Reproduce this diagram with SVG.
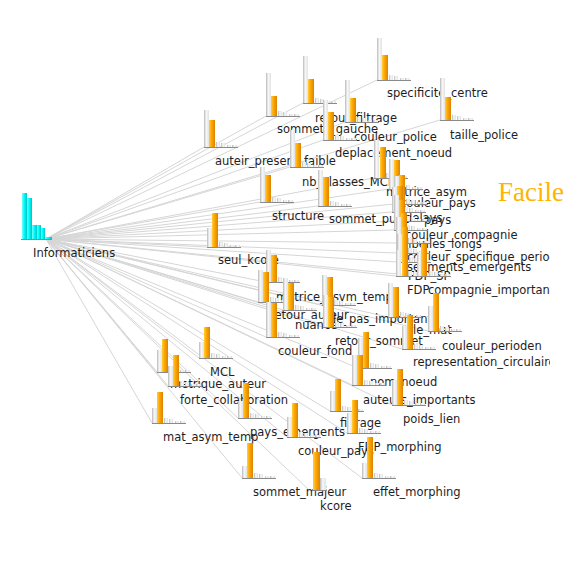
<svg xmlns="http://www.w3.org/2000/svg" xmlns:xlink="http://www.w3.org/1999/xlink" width="585" height="567" viewBox="0 0 585 567">
<style>
.e{stroke:#d6d6d6;stroke-width:1;fill:none}
.gb{fill:url(#gg)}
.ob{fill:url(#og)}
.cb{fill:url(#cg)}
.sb{fill:url(#gg)}
.bl{stroke:#8a8a8a;stroke-width:1}
text{font-family:"DejaVu Sans",Verdana,sans-serif;font-size:11.5px;fill:#1e1e1e}
.facile{font-family:"Liberation Serif","Times New Roman",serif;font-size:27px;fill:#ffb400}
</style>
<defs>
<linearGradient id="gg" x1="0" y1="0" x2="1" y2="0"><stop offset="0" stop-color="#b8b8b8"/><stop offset="0.45" stop-color="#f8f8f8"/><stop offset="1" stop-color="#e2e2e2"/></linearGradient>
<linearGradient id="og" x1="0" y1="0" x2="1" y2="0"><stop offset="0" stop-color="#ffcf40"/><stop offset="0.4" stop-color="#ffa800"/><stop offset="1" stop-color="#dc8200"/></linearGradient>
<linearGradient id="cg" x1="0" y1="0" x2="1" y2="0"><stop offset="0" stop-color="#7ff"/><stop offset="0.4" stop-color="#0ff"/><stop offset="1" stop-color="#00c4c4"/></linearGradient>
<g id="tail"><rect class="sb" x="12" y="-5" width="4" height="5"/><rect class="sb" x="17" y="-4" width="4" height="4"/><rect class="sb" x="23" y="-2" width="4" height="2"/><rect class="sb" x="28" y="-2" width="5" height="2"/><path class="bl" d="M0 0.5H34"/></g>
<clipPath id="clip"><rect x="0" y="0" width="550" height="567"/></clipPath>
</defs>
<g id="connectors">
<path class="e" d="M46 239L377 80M46 239L303 103M46 239L266 116M46 239L440 120M46 239L345 122M46 239L323 140M46 239L204 147M46 239L290 167M46 239L374 178M46 239L389 189M46 239L260 202M46 239L394 204M46 239L318 206M46 239L392 212M46 239L394 221M46 239L394 230M46 239L207 247M46 239L396 243M46 239L396 253M46 239L397 262M46 239L396 276M46 239L417 276M46 239L266 282M46 239L258 302M46 239L322 305M46 239L283 310M46 239L388 317M46 239L323 327M46 239L428 331M46 239L266 337M46 239L402 349M46 239L199 358M46 239L358 368M46 239L157 372M46 239L352 385M46 239L168 386M46 239L392 405M46 239L330 411M46 239L238 418M46 239L152 423M46 239L347 433M46 239L287 437M46 239L242 478M46 239L362 478M46 239L309 490"/>
</g>
<g id="nodes" clip-path="url(#clip)">
<g id="Informaticiens"><rect class="cb" x="22" y="193" width="5" height="46"/><rect class="cb" x="27" y="198" width="5" height="41"/><rect class="cb" x="32" y="225" width="5" height="14"/><rect class="cb" x="37" y="225" width="4" height="14"/><rect class="cb" x="41" y="228" width="4" height="11"/><rect class="cb" x="45" y="237" width="7" height="2"/><path class="bl" d="M21 239.5H52" stroke="#555"/><text x="33" y="257">Informaticiens</text></g>
<g id="specificite_centre" transform="translate(377,80)"><rect class="gb" y="-42" width="5" height="42"/><rect class="ob" x="5" y="-25" width="6" height="25"/><use href="#tail"/><text x="10" y="17">specificite_centre</text></g>
<g id="retour_filtrage" transform="translate(303,103)"><rect class="gb" y="-47" width="5" height="47"/><rect class="ob" x="5" y="-24" width="6" height="24"/><use href="#tail"/><text x="12" y="19">retour_filtrage</text></g>
<g id="sommets_gauche" transform="translate(266,116)"><rect class="gb" y="-43" width="5" height="43"/><rect class="ob" x="5" y="-20" width="6" height="20"/><use href="#tail"/><text x="11" y="17">sommets_gauche</text></g>
<g id="taille_police" transform="translate(440,120)"><rect class="gb" y="-42" width="5" height="42"/><rect class="ob" x="5" y="-23" width="6" height="23"/><use href="#tail"/><text x="10" y="19">taille_police</text></g>
<g id="couleur_police" transform="translate(345,122)"><rect class="gb" y="-42" width="5" height="42"/><rect class="ob" x="5" y="-24" width="6" height="24"/><use href="#tail"/><text x="9" y="19">couleur_police</text></g>
<g id="deplacement_noeud" transform="translate(323,140)"><rect class="gb" y="-40" width="5" height="40"/><rect class="ob" x="5" y="-28" width="6" height="28"/><use href="#tail"/><text x="12" y="17">deplacement_noeud</text></g>
<g id="auteir_present_faible" transform="translate(204,147)"><rect class="gb" y="-37" width="5" height="37"/><rect class="ob" x="5" y="-27" width="6" height="27"/><use href="#tail"/><text x="11" y="18">auteir_present_faible</text></g>
<g id="nb_classes_MCL" transform="translate(290,167)"><rect class="gb" y="-37" width="5" height="37"/><rect class="ob" x="5" y="-24" width="6" height="24"/><use href="#tail"/><text x="12" y="19">nb_classes_MCL</text></g>
<g id="matrice_asym" transform="translate(374,178)"><rect class="gb" y="-38" width="5" height="38"/><rect class="ob" x="6" y="-31" width="6" height="31"/><use href="#tail"/><text x="12" y="18">matrice_asym</text></g>
<g id="couleur_pays" transform="translate(389,189)"><rect class="gb" y="-30" width="5" height="30"/><rect class="ob" x="5" y="-29" width="6" height="29"/><use href="#tail"/><text x="11" y="18">couleur_pays</text></g>
<g id="structure" transform="translate(260,202)"><rect class="gb" y="-35" width="5" height="35"/><rect class="ob" x="5" y="-27" width="6" height="27"/><use href="#tail"/><text x="12" y="18">structure</text></g>
<g id="delays" transform="translate(394,204)"><rect class="gb" y="-28" width="5" height="28"/><rect class="ob" x="5" y="-29" width="6" height="29"/><use href="#tail"/><text x="11" y="18">delays</text></g>
<g id="sommet_puits" transform="translate(318,206)"><rect class="gb" y="-36" width="5" height="36"/><rect class="ob" x="5" y="-29" width="6" height="29"/><use href="#tail"/><text x="11" y="17">sommet_puits</text></g>
<g id="pays" transform="translate(392,212)"><rect class="gb" y="-25" width="5" height="25"/><rect class="ob" x="5" y="-26" width="6" height="26"/><use href="#tail"/><text x="32" y="12">pays</text></g>
<g id="couleur_compagnie" transform="translate(394,221)"><rect class="gb" y="-26" width="5" height="26"/><rect class="ob" x="5" y="-21" width="6" height="21"/><use href="#tail"/><text x="11" y="18">couleur_compagnie</text></g>
<g id="libelles_longs" transform="translate(394,230)"><rect class="gb" y="-25" width="5" height="25"/><rect class="ob" x="5" y="-30" width="6" height="30"/><use href="#tail"/><text x="11" y="18">libelles_longs</text></g>
<g id="seul_kcore" transform="translate(207,247)"><rect class="gb" y="-19" width="5" height="19"/><rect class="ob" x="5" y="-34" width="6" height="34"/><use href="#tail"/><text x="11" y="17">seul_kcore</text></g>
<g id="couleur_specifique_periode" transform="translate(396,243)"><rect class="gb" y="-26" width="5" height="26"/><rect class="ob" x="5" y="-30" width="6" height="30"/><use href="#tail"/><text x="11" y="18">couleur_specifique_periode</text></g>
<g id="segments_emergents" transform="translate(396,253)"><rect class="gb" y="-24" width="5" height="24"/><rect class="ob" x="6" y="-26" width="6" height="26"/><use href="#tail"/><text x="11" y="18">segments_emergents</text></g>
<g id="FDP_SP" transform="translate(397,262)"><rect class="gb" y="-28" width="5" height="28"/><rect class="ob" x="5" y="-32" width="6" height="32"/><use href="#tail"/><text x="11" y="18">FDP_SP</text></g>
<g id="FDP" transform="translate(396,276)"><rect class="gb" y="-26" width="5" height="26"/><rect class="ob" x="6" y="-36" width="6" height="36"/><use href="#tail"/><text x="11" y="18">FDP</text></g>
<g id="compagnie_importante" transform="translate(417,276)"><rect class="gb" y="-24" width="5" height="24"/><rect class="ob" x="4" y="-32" width="6" height="32"/><use href="#tail"/><text x="11" y="18">compagnie_importante</text></g>
<g id="matrice_asym_temp" transform="translate(266,282)"><rect class="gb" y="-32" width="5" height="32"/><rect class="ob" x="5" y="-27" width="6" height="27"/><use href="#tail"/><text x="10" y="19">matrice_asym_temp</text></g>
<g id="retour_auteur" transform="translate(258,302)"><rect class="gb" y="-32" width="5" height="32"/><rect class="ob" x="5" y="-30" width="6" height="30"/><use href="#tail"/><text x="12" y="17">retour_auteur</text></g>
<g id="le_pas_importante" transform="translate(322,305)"><rect class="gb" y="-30" width="5" height="30"/><rect class="ob" x="5" y="-28" width="6" height="28"/><use href="#tail"/><text x="11" y="18">le_pas_importante</text></g>
<g id="nuance" transform="translate(283,310)"><rect class="gb" y="-32" width="5" height="32"/><rect class="ob" x="5" y="-27" width="6" height="27"/><use href="#tail"/><text x="12" y="19">nuance</text></g>
<g id="le_mat" transform="translate(388,317)"><rect class="gb" y="-34" width="5" height="34"/><rect class="ob" x="5" y="-30" width="6" height="30"/><use href="#tail"/><text x="25" y="17">le_mat</text></g>
<g id="retour_sommet" transform="translate(323,327)"><rect class="gb" y="-32" width="5" height="32"/><rect class="ob" x="5" y="-30" width="6" height="30"/><use href="#tail"/><text x="12" y="18">retour_sommet</text></g>
<g id="couleur_perioden" transform="translate(428,331)"><rect class="gb" y="-25" width="5" height="25"/><rect class="ob" x="5" y="-38" width="6" height="38"/><use href="#tail"/><text x="14" y="19">couleur_perioden</text></g>
<g id="couleur_fond" transform="translate(266,337)"><rect class="gb" y="-35" width="5" height="35"/><rect class="ob" x="5" y="-34" width="6" height="34"/><use href="#tail"/><text x="12" y="18">couleur_fond</text></g>
<g id="representation_circulaire" transform="translate(402,349)"><rect class="gb" y="-23" width="5" height="23"/><rect class="ob" x="5" y="-34" width="6" height="34"/><use href="#tail"/><text x="11" y="17">representation_circulaire</text></g>
<g id="MCL" transform="translate(199,358)"><rect class="gb" y="-16" width="5" height="16"/><rect class="ob" x="5" y="-31" width="6" height="31"/><use href="#tail"/><text x="11" y="18">MCL</text></g>
<g id="nom_noeud" transform="translate(358,368)"><rect class="gb" y="-30" width="5" height="30"/><rect class="ob" x="5" y="-36" width="6" height="36"/><use href="#tail"/><text x="12" y="18">nom_noeud</text></g>
<g id="metrique_auteur" transform="translate(157,372)"><rect class="gb" y="-22" width="5" height="22"/><rect class="ob" x="5" y="-33" width="6" height="33"/><use href="#tail"/><text x="13" y="16">metrique_auteur</text></g>
<g id="auteurs_importants" transform="translate(352,385)"><rect class="gb" y="-30" width="5" height="30"/><rect class="ob" x="5" y="-30" width="6" height="30"/><use href="#tail"/><text x="11" y="19">auteurs_importants</text></g>
<g id="forte_collaboration" transform="translate(168,386)"><rect class="gb" y="-20" width="5" height="20"/><rect class="ob" x="5" y="-31" width="6" height="31"/><use href="#tail"/><text x="12" y="18">forte_collaboration</text></g>
<g id="poids_lien" transform="translate(392,405)"><rect class="gb" y="-25" width="5" height="25"/><rect class="ob" x="5" y="-36" width="6" height="36"/><use href="#tail"/><text x="11" y="18">poids_lien</text></g>
<g id="filtrage" transform="translate(330,411)"><rect class="gb" y="-20" width="5" height="20"/><rect class="ob" x="5" y="-32" width="6" height="32"/><use href="#tail"/><text x="10" y="16">filtrage</text></g>
<g id="pays_emergents" transform="translate(238,418)"><rect class="gb" y="-17" width="5" height="17"/><rect class="ob" x="5" y="-35" width="6" height="35"/><use href="#tail"/><text x="12" y="18">pays_emergents</text></g>
<g id="mat_asym_temp" transform="translate(152,423)"><rect class="gb" y="-15" width="5" height="15"/><rect class="ob" x="5" y="-31" width="6" height="31"/><use href="#tail"/><text x="11" y="18">mat_asym_temp</text></g>
<g id="FDP_morphing" transform="translate(347,433)"><rect class="gb" y="-20" width="5" height="20"/><rect class="ob" x="5" y="-33" width="6" height="33"/><use href="#tail"/><text x="11" y="18">FDP_morphing</text></g>
<g id="couleur_pays_2" transform="translate(287,437)"><rect class="gb" y="-20" width="5" height="20"/><rect class="ob" x="5" y="-34" width="6" height="34"/><use href="#tail"/><text x="11" y="18">couleur_pays</text></g>
<g id="sommet_majeur" transform="translate(242,478)"><rect class="gb" y="-12" width="5" height="12"/><rect class="ob" x="5" y="-35" width="6" height="35"/><use href="#tail"/><text x="11" y="18">sommet_majeur</text></g>
<g id="effet_morphing" transform="translate(362,478)"><rect class="gb" y="-15" width="5" height="15"/><rect class="ob" x="5" y="-41" width="6" height="41"/><use href="#tail"/><text x="11" y="18">effet_morphing</text></g>
<g id="kcore" transform="translate(309,490)"><rect class="ob" x="4" y="-38" width="7" height="38"/><rect class="gb" x="11" y="-12" width="6" height="12"/><path class="bl" d="M4 0.5H18"/><text x="11" y="20">kcore</text></g>
</g>
<text class="facile" x="498" y="201">Facile</text>
</svg>
